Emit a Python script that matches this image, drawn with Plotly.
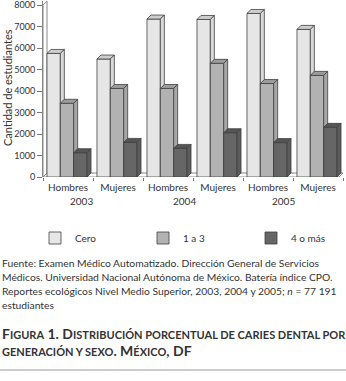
import plotly.graph_objects as go

# ---- data ----
categories = ["Hombres", "Mujeres", "Hombres", "Mujeres", "Hombres", "Mujeres"]
years = ["2003", "2004", "2005"]
series_names = ["Cero", "1 a 3", "4 o más"]
cero = [5750, 5490, 7350, 7330, 7610, 6870]
uno_a_tres = [3430, 4120, 4120, 5290, 4350, 4730]
cuatro_mas = [1130, 1610, 1330, 2060, 1600, 2310]
y_ticks = [0, 1000, 2000, 3000, 4000, 5000, 6000, 7000, 8000]

# ---- geometry / style ----
W, H = 346, 381
L, R, T, B = 43, 3, 1, 204
PLOT_H = H - T - B
PLOT_W = W - L - R
YMAX = 8190
DX = 0.08
DY = 186
BW = 0.267
OFFS = [-0.287, -0.02, 0.247]
EDGE = "#404040"
FONT = "Lato"
TXT = "#333333"
styles = [
    dict(front="#e6e6e6", top="#cdcdcd", side="#d9d9d9"),
    dict(front="#b2b2b2", top="#9c9c9c", side="#a6a6a6"),
    dict(front="#666666", top="#555555", side="#5c5c5c"),
]


def px(xp):
    return (xp - L) / PLOT_W


def py(yp):
    return (H - B - yp) / PLOT_H


fig = go.Figure()
all_vals = [cero, uno_a_tres, cuatro_mas]
for k, (name, vals, st) in enumerate(zip(series_names, all_vals, styles)):
    xa = "x" if k == 0 else f"x{k+1}"
    ya = "y" if k == 0 else f"y{k+1}"
    xs = [i + OFFS[k] for i in range(len(vals))]
    fig.add_trace(go.Bar(
        x=xs, y=vals, width=BW, name=name,
        marker=dict(color=st["front"], line=dict(color=EDGE, width=0.8)),
        xaxis=xa, yaxis=ya, showlegend=True, hoverinfo="y",
    ))
    tx, ty, sx, sy = [], [], [], []
    for xc, v in zip(xs, vals):
        x0, x1 = xc - BW / 2, xc + BW / 2
        tx += [x0, x0 + DX, x1 + DX, x1, x0, None]
        ty += [v, v + DY, v + DY, v, v, None]
        sx += [x1, x1 + DX, x1 + DX, x1, x1, None]
        sy += [0, DY, v + DY, v, 0, None]
    fig.add_trace(go.Scatter(x=tx, y=ty, mode="lines", fill="toself",
                             fillcolor=st["top"], line=dict(color=EDGE, width=0.8),
                             xaxis=xa, yaxis=ya, showlegend=False, hoverinfo="skip"))
    fig.add_trace(go.Scatter(x=sx, y=sy, mode="lines", fill="toself",
                             fillcolor=st["side"], line=dict(color=EDGE, width=0.8),
                             xaxis=xa, yaxis=ya, showlegend=False, hoverinfo="skip"))

n = len(categories)
xr = [-0.5, n - 0.5]
hidden_x = dict(overlaying="x", matches="x", visible=False, range=xr, automargin=False)
hidden_y = dict(overlaying="y", matches="y", visible=False, range=[0, YMAX], automargin=False)

shapes = [
    dict(type="path", xref="x", yref="y", layer="below",
         path=f"M{-0.5},0 L{-0.5},{8000} L{-0.5+DX},{8000+DY} L{-0.5+DX},{DY} Z",
         fillcolor="white", line=dict(color="#888888", width=1)),
    dict(type="path", xref="x", yref="y", layer="below",
         path=f"M{-0.5},0 L{n-0.5-DX},0 L{n-0.5},{DY} L{-0.5+DX},{DY} Z",
         fillcolor="white", line=dict(color="#888888", width=1)),
    dict(type="line", xref="paper", yref="paper", x0=px(0), x1=px(346),
         y0=py(370), y1=py(370), line=dict(color="#999999", width=1)),
]

annotations = []
for yr, xpos in zip(years, [81, 184, 283]):
    annotations.append(dict(text=yr, x=px(xpos), y=py(200.5), xref="paper", yref="paper",
                            xanchor="center", yanchor="middle", showarrow=False,
                            font=dict(family=FONT, size=10, color=TXT)))
annotations.append(dict(text="Cantidad de estudiantes", textangle=-90, x=px(8), y=py(88),
                        xref="paper", yref="paper", xanchor="center", yanchor="middle",
                        showarrow=False, font=dict(family=FONT, size=11, color=TXT)))

foot = [
    ("Fuente: Examen Médico Automatizado. Dirección General de Servicios", 262.5),
    ("Médicos. Universidad Nacional Autónoma de México. Batería índice CPO.", 276.7),
    ("Reportes ecológicos Nivel Medio Superior, 2003, 2004 y 2005; <i>n</i> = 77 191", 290.7),
    ("estudiantes", 305),
]
for txt, yp in foot:
    annotations.append(dict(text=txt, x=px(0), y=py(yp), xref="paper", yref="paper",
                            xanchor="left", yanchor="middle", showarrow=False,
                            font=dict(family=FONT, size=10.3, color=TXT)))


def sc(s):
    return f"<span style='font-size:11px'>{s}</span>"


title_lines = [
    ("<b>F" + sc("IGURA") + " 1. D" + sc("ISTRIBUCIÓN PORCENTUAL DE CARIES DENTAL POR") + "</b>", 333),
    ("<b>" + sc("GENERACIÓN Y SEXO") + ". M" + sc("ÉXICO") + ", DF</b>", 350),
]
for txt, yp in title_lines:
    annotations.append(dict(text=txt, x=px(0), y=py(yp), xref="paper", yref="paper",
                            xanchor="left", yanchor="middle", showarrow=False,
                            font=dict(family=FONT, size=14, color=TXT)))

fig.update_layout(
    template="none",
    width=W, height=H,
    margin=dict(l=L, r=R, t=T, b=B, pad=0, autoexpand=False),
    paper_bgcolor="white", plot_bgcolor="white",
    barmode="overlay",
    font=dict(family=FONT, size=10, color=TXT),
    xaxis=dict(range=xr, tickvals=list(range(n)), ticktext=categories,
               ticks="", showgrid=False, zeroline=False, showline=False, automargin=False,
               ticklabelstandoff=3,
               tickfont=dict(size=10, color=TXT),
               minor=dict(tick0=0.5, dtick=1, ticks="outside", ticklen=3,
                          tickcolor="#777777", showgrid=False)),
    yaxis=dict(range=[0, YMAX], tickvals=y_ticks, ticks="outside", ticklen=5,
               tickcolor="#777777", showline=True, linecolor="#888888", automargin=False,
               showgrid=False, zeroline=False, ticklabeloverflow="allow",
               tickfont=dict(size=9, color=TXT)),
    xaxis2=hidden_x, xaxis3=hidden_x,
    yaxis2=hidden_y, yaxis3=hidden_y,
    legend=dict(orientation="h", x=px(35), y=py(238), xanchor="left", yanchor="middle",
                entrywidth=63, entrywidthmode="pixels", traceorder="normal",
                font=dict(family=FONT, size=10, color=TXT),
                bgcolor="rgba(0,0,0,0)", borderwidth=0),
    shapes=shapes,
    annotations=annotations,
)

fig.write_html("out.html", config={"displayModeBar": False},
               post_script="document.body.style.margin='0';document.body.style.overflow='hidden';")
